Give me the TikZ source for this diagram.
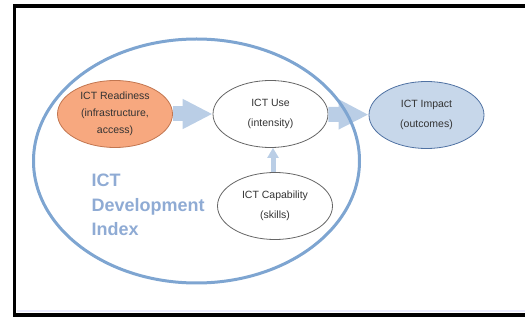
\documentclass[tikz,border=0pt]{standalone}
\usepackage{fontspec}
\setmainfont{Liberation Sans}
\usetikzlibrary{shapes.geometric,arrows.meta}

\definecolor{readyfill}{HTML}{F7A87F}
\definecolor{readyline}{HTML}{C27650}
\definecolor{impactfill}{HTML}{C7D7EA}
\definecolor{impactline}{HTML}{5072A3}
\definecolor{indexblue}{HTML}{7EA5D1}
\definecolor{flowblue}{HTML}{BACEE6}
\definecolor{labelblue}{HTML}{8FABD4}

\begin{document}
\begin{tikzpicture} [
                x=1pt, y=-1pt,
                phase/.style={ellipse, draw=black!60, line width=0.8pt, fill=white,
                  minimum width=115pt, minimum height=67pt, inner sep=0pt,
                  align=center, text=black!80, font=\fontsize{10.5}{20}\selectfont},
                readiness/.style={phase, fill=readyfill, draw=readyline,
                  font=\fontsize{10.5}{17}\selectfont},
                impact/.style={phase, fill=impactfill, draw=impactline},
                index/.style={ellipse, draw=indexblue, line width=3pt,
                  minimum width=326pt, minimum height=244pt, inner sep=0pt},
                flow/.style={draw=flowblue, line width=15pt, -{Triangle[width=28pt,length=30pt]}},
                small flow/.style={draw=flowblue, line width=5pt, -{Triangle[width=11pt,length=10pt]}},
                title/.style={anchor=west, align=left, text=labelblue,
                  font=\fontsize{18}{24.5}\selectfont\bfseries}
            ]
            \clip (0,0) rectangle (525,323);
            % frame
            \draw[draw=black!10!blue!8, line width=1.5pt] (17,311) -- (525,311);
            \draw[line width=3.5pt] (14.5,6) rectangle (540,315);
            % the four stages
            \node[readiness] (ready) at (115,114) {ICT Readiness\\(infrastructure,\\access)};
            \foreach \pos/\name/\text in {
                {(270.5,114)/use/ICT Use\\(intensity)},
                {(275,206)/skill/ICT Capability\\(skills)}}
                \node[phase] (\name) at \pos {\text};
            \node[impact] (impact) at (426.5,115) {ICT Impact\\(outcomes)};
            % flows between the stages
            \foreach \source/\dest in {ready/use, use/impact}
                \path[flow] (\source) -- (\dest);
            \path[small flow] (skill.north -| 273,0) -- (use.south -| 273,0);
            % the index ellipse and its label
            \node[index] (idi) at (196.5,161) {};
            \node[title] (idilabel) at (88,205) {ICT\\Development\\Index};
        \end{tikzpicture}
\end{document}
